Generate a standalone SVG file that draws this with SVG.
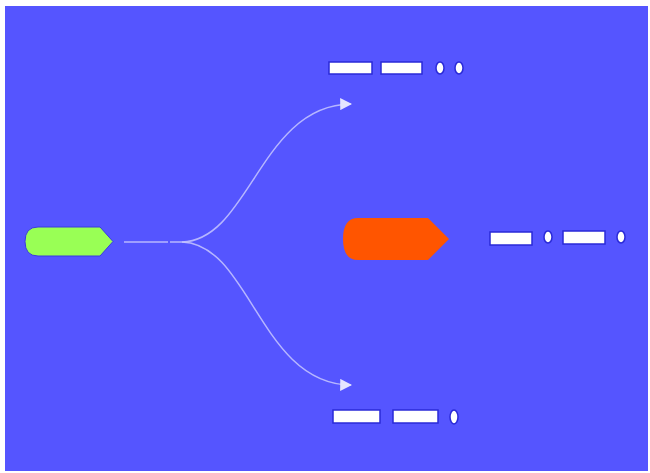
<svg xmlns="http://www.w3.org/2000/svg" width="650" height="473" viewBox="0 0 650 473">
<style>
.bg{fill:#5555ff}
.dash{fill:#ffffff;stroke:#2a2ad8;stroke-width:1.5}
.conn{fill:none;stroke:#c8c8ff;stroke-width:1.5;opacity:0.85}
</style>
<defs>
<marker id="arr" viewBox="0 0 10 10" refX="9" refY="5" markerWidth="12" markerHeight="12" markerUnits="userSpaceOnUse" orient="auto">
<path d="M0,0 L10,5 L0,10 Z" fill="#ffffff"/>
</marker>
</defs>
<rect x="0" y="0" width="650" height="473" fill="#ffffff"/>
<rect class="bg" x="5" y="6" width="643" height="465"/>
<g id="connectors">
<path class="conn" d="M124,242 L168,242"/>
<path class="conn" d="M170,242 L182,242"/>
<path class="conn" d="M182,242 C250,240 260,105 351,104" marker-end="url(#arr)"/>
<path class="conn" d="M182,242 C250,244 260,384 351,385" marker-end="url(#arr)"/>
</g>
<g id="source">
<path d="M38,227 L100,227 L113,241.5 L100,256 L38,256 Q25,256 25,241.5 Q25,227 38,227 Z" fill="#99ff55" stroke="#3a3ae0" stroke-width="1"/>
</g>
<g id="target">
<path d="M358,218 L428,218 L449,239 L428,260 L358,260 Q343,260 343,239 Q343,218 358,218 Z" fill="#ff5500"/>
</g>
<g id="code-top">
<rect class="dash" x="329" y="62" width="43" height="12"/>
<rect class="dash" x="381" y="62" width="41" height="12"/>
<ellipse class="dash" cx="440" cy="68" rx="4" ry="6"/>
<ellipse class="dash" cx="459" cy="68" rx="4" ry="6"/>
</g>
<g id="code-middle">
<rect class="dash" x="490" y="232" width="42" height="13"/>
<ellipse class="dash" cx="548" cy="237" rx="4" ry="6"/>
<rect class="dash" x="563" y="231" width="42" height="13"/>
<ellipse class="dash" cx="621" cy="237" rx="4" ry="6"/>
</g>
<g id="code-bottom">
<rect class="dash" x="333" y="410" width="47" height="13"/>
<rect class="dash" x="393" y="410" width="45" height="13"/>
<ellipse class="dash" cx="454" cy="417" rx="4" ry="7"/>
</g>
</svg>
